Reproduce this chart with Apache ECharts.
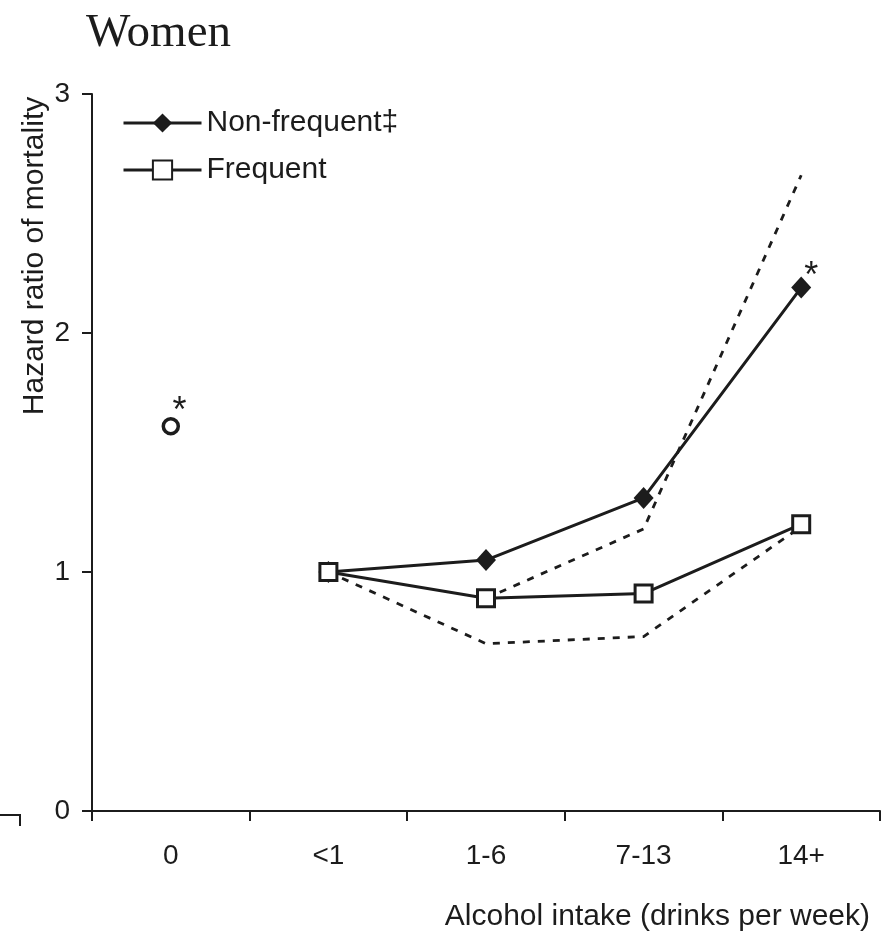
<!DOCTYPE html>
<html>
<head>
<meta charset="utf-8">
<script src="https://cdn.jsdelivr.net/npm/echarts@6/dist/echarts.min.js"></script>
<style>
  html, body { margin: 0; padding: 0; background: #fff; }
  #chart { width: 890px; height: 935px; }
</style>
</head>
<body>
<div id="chart"></div>
<script>
// Alcohol intake categories (drinks per week)
const categories = ['0', '<1', '1-6', '7-13', '14+'];
// Hazard ratios of mortality
const abstainer = [1.61, null, null, null, null];
const nonFrequent = [null, 1.00, 1.05, 1.31, 2.19];
const frequent = [null, 1.00, 0.89, 0.91, 1.20];
// Confidence band drawn as dashed lines
const ciUpper = [null, null, 0.89, 1.18, 2.66];
const ciLower = [null, 1.00, 0.70, 0.73, 1.19];
// Categories whose estimate is marked as significant
const abstainerStar = ['0'];
const nonFrequentStar = ['14+'];
const yTicks = [0, 1, 2, 3];

const ink = '#1c1c1c';
const sans = '"Liberation Sans", Arial, sans-serif';

// Adds an asterisk label to the starred categories, offset from the marker
function withStar(values, starred, offset) {
  return values.map((v, i) => {
    if (v === null) return null;
    if (starred.indexOf(categories[i]) >= 0) {
      return {
        value: v,
        label: {
          show: true, formatter: '*', position: offset,
          fontFamily: sans, fontSize: 36, color: ink
        }
      };
    }
    return v;
  });
}

const chart = echarts.init(document.getElementById('chart'));
chart.setOption({
  animation: false,
  backgroundColor: '#fff',
  grid: { left: 92, right: 10, top: 94, bottom: 124 },
  title: {
    text: 'Women', left: 81, top: 5,
    textStyle: { fontFamily: '"Liberation Serif", "Times New Roman", serif', fontWeight: 'normal', fontSize: 47, color: ink }
  },
  legend: {
    orient: 'vertical', left: 117, top: 103, itemGap: 17,
    itemWidth: 78, itemHeight: 24,
    data: ['Non-frequent‡', 'Frequent'],
    lineStyle: { width: 3 },
    textStyle: { fontFamily: sans, fontSize: 30, color: ink, padding: [0, 0, 0, 0] }
  },
  xAxis: {
    type: 'category', data: categories, boundaryGap: true,
    axisLine: { lineStyle: { color: ink, width: 2 } },
    axisTick: { show: true, length: 10, inside: false, lineStyle: { color: ink, width: 2 } },
    axisLabel: { fontFamily: sans, fontSize: 28, color: ink, margin: 31 }
  },
  yAxis: {
    type: 'value', min: 0, max: 3, interval: 1,
    splitLine: { show: false },
    axisLine: { show: true, lineStyle: { color: ink, width: 2 } },
    axisTick: { show: true, length: 10, lineStyle: { color: ink, width: 2 } },
    axisLabel: {
      fontFamily: sans, fontSize: 28, color: ink, margin: 22,
      formatter: v => (yTicks.indexOf(v) >= 0 ? String(v) : '')
    }
  },
  graphic: [
    {
      type: 'text', x: 35, y: 256, rotation: Math.PI / 2,
      style: { text: 'Hazard ratio of mortality', font: '30px ' + sans, fill: ink, align: 'center', verticalAlign: 'middle' }
    },
    {
      type: 'text', x: 870, y: 917,
      style: { text: 'Alcohol intake (drinks per week)', font: '30px ' + sans, fill: ink, align: 'right', verticalAlign: 'middle' }
    },
    {
      type: 'polyline',
      shape: { points: [[0, 815], [20, 815], [20, 826]] },
      style: { stroke: ink, lineWidth: 2, fill: null }
    }
  ],
  series: [
    {
      name: 'CI upper', type: 'line', data: ciUpper, symbol: 'none', z: 1,
      lineStyle: { color: ink, width: 2.8, type: [7, 8] }
    },
    {
      name: 'CI lower', type: 'line', data: ciLower, symbol: 'none', z: 1,
      lineStyle: { color: ink, width: 2.8, type: [7, 8] }
    },
    {
      name: 'Abstainer', type: 'line', data: withStar(abstainer, abstainerStar, [11, -23]),
      symbol: 'circle', symbolSize: 15, z: 3,
      itemStyle: { color: '#fff', borderColor: ink, borderWidth: 3.5 },
      lineStyle: { width: 0 }
    },
    {
      name: 'Non-frequent‡', type: 'line', data: withStar(nonFrequent, nonFrequentStar, [13, -18]),
      symbol: 'diamond', symbolSize: [20, 22], z: 3,
      itemStyle: { color: ink, borderColor: ink, borderWidth: 0 },
      lineStyle: { color: ink, width: 3 }
    },
    {
      name: 'Frequent', type: 'line', data: frequent,
      symbol: 'rect', symbolSize: 17, z: 4,
      itemStyle: { color: '#fff', borderColor: ink, borderWidth: 3 },
      lineStyle: { color: ink, width: 3 }
    }
  ]
});
</script>
</body>
</html>
